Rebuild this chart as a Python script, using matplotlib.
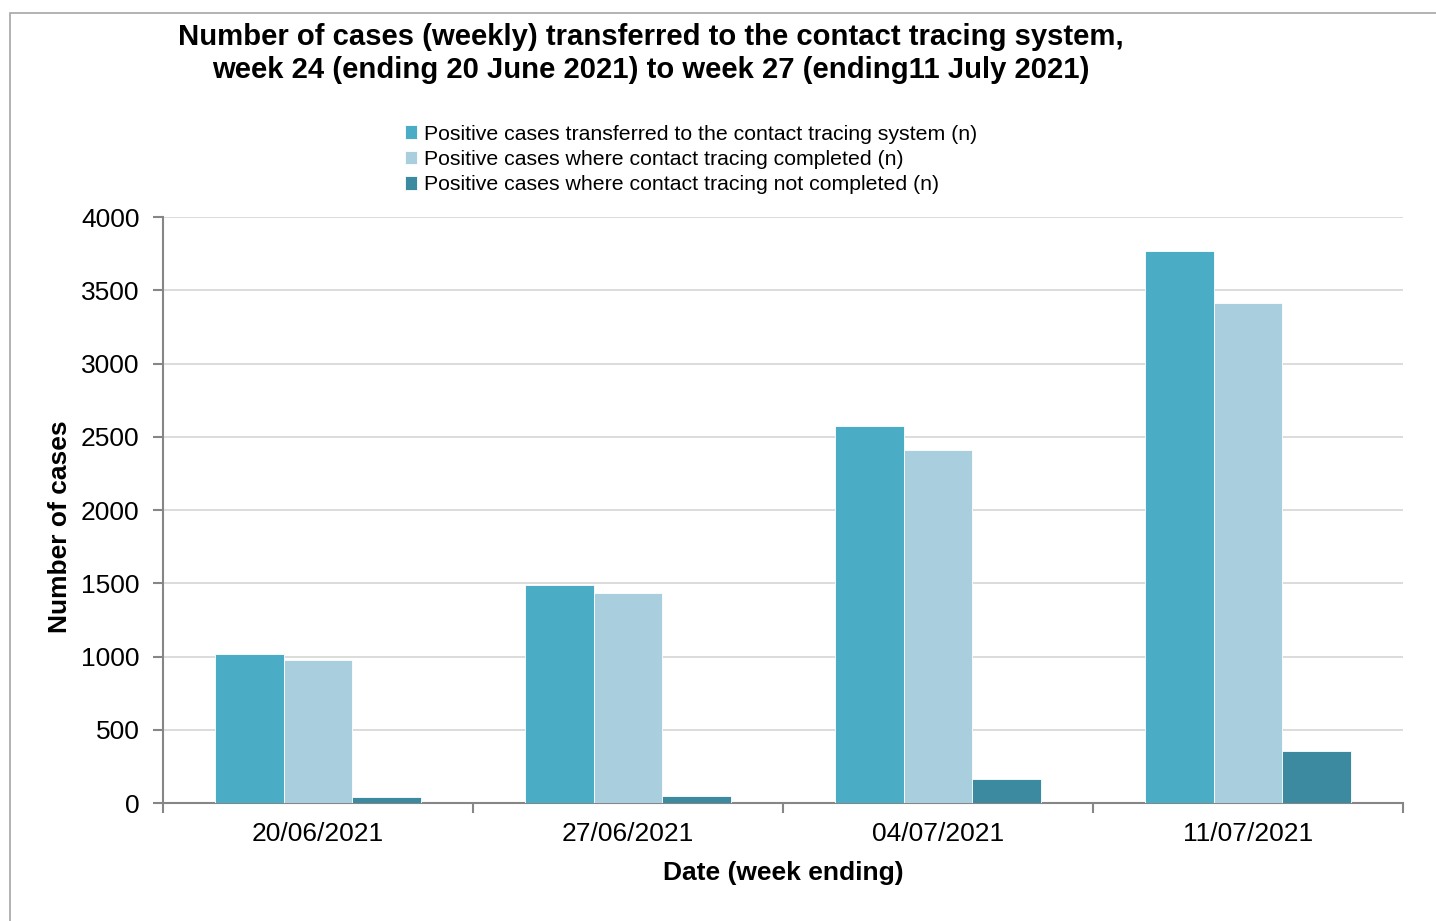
import numpy as np
import matplotlib.pyplot as plt
from matplotlib.patches import Rectangle

plt.rcParams['font.family'] = ['Liberation Sans', 'DejaVu Sans']

weeks = ["20/06/2021", "27/06/2021", "04/07/2021", "11/07/2021"]
transferred = [1016, 1486, 2573, 3768]
completed = [975, 1432, 2407, 3411]
not_completed = [43, 48, 166, 358]

series = [
    ("Positive cases transferred to the contact tracing system (n)", transferred, "#4BACC6"),
    ("Positive cases where contact tracing completed (n)", completed, "#A9CEDD"),
    ("Positive cases where contact tracing not completed (n)", not_completed, "#3B8AA0"),
]

W, H = 1436, 921
fig = plt.figure(figsize=(W / 100, H / 100), dpi=100)
ax = fig.add_axes([163 / W, (H - 803) / H, 1240 / W, 586 / H])

# outer frame of the chart area (cut by the image edges)
fig.patches.append(Rectangle((10 / W, -0.1), 1.2, (H - 13) / H + 0.1,
                             transform=fig.transFigure, fill=False,
                             edgecolor="#A6A6A6", linewidth=1.2))

x = np.arange(len(weeks))
bw = 0.222
for i, (label, vals, col) in enumerate(series):
    ax.bar(x + (i - 1) * bw, vals, bw, color=col, label=label,
           edgecolor="white", linewidth=0.6, zorder=3)

ax.set_xlim(-0.5, len(weeks) - 0.5)
ax.set_ylim(0, 4000)
ax.set_yticks(range(0, 4001, 500))
ax.grid(axis="y", color="#D9D9D9", linewidth=1.3, zorder=0)

ax.set_xticks(x)
ax.set_xticklabels(weeks, fontsize=19)
ax.tick_params(axis="x", length=0, pad=14)
ax.set_xticks(np.arange(-0.5, len(weeks), 1), minor=True)
ax.tick_params(axis="x", which="minor", length=7, width=1.5, color="#868686")
ax.tick_params(axis="y", labelsize=19, length=7, width=1.5, color="#868686", pad=10)

for s in ["top", "right"]:
    ax.spines[s].set_visible(False)
for s in ["left", "bottom"]:
    ax.spines[s].set_color("#868686")
    ax.spines[s].set_linewidth(1.5)

fig.text(651 / W, 1 - 37 / H,
         "Number of cases (weekly) transferred to the contact tracing system,",
         ha="center", va="center", fontsize=21.1, fontweight="bold")
fig.text(651 / W, 1 - 70 / H,
         "week 24 (ending 20 June 2021) to week 27 (ending11 July 2021)",
         ha="center", va="center", fontsize=21.1, fontweight="bold")

fig.text(60 / W, 1 - 527 / H, "Number of cases", rotation=90,
         ha="center", va="center", fontsize=19, fontweight="bold")
fig.text(783 / W, 1 - 873 / H, "Date (week ending)",
         ha="center", va="center", fontsize=19, fontweight="bold")

fig.legend(loc="upper left", bbox_to_anchor=(396 / W, 1 - 116 / H),
           frameon=False, fontsize=15.3, handlelength=0.6, handleheight=0.6,
           handletextpad=0.3, labelspacing=0.3, borderaxespad=0)

fig.savefig("out.png", dpi=100)
